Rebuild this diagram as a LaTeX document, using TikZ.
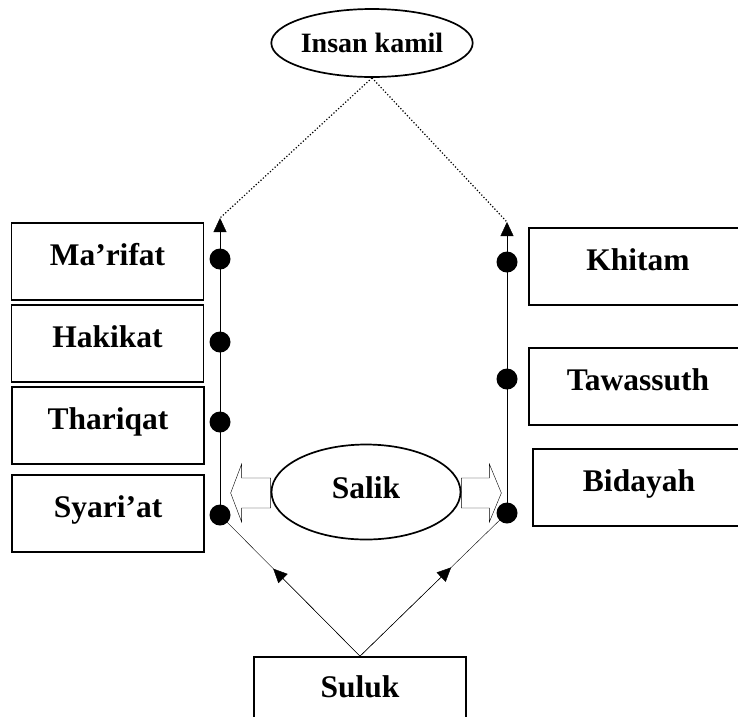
\documentclass[tikz,border=0pt]{standalone}
\usepackage{fontspec}
\setmainfont{Liberation Serif}
\usetikzlibrary{arrows.meta,shapes.geometric,calc}
\pgfdeclarelayer{background}
\pgfsetlayers{background,main}

\begin{document}
\begin{tikzpicture}[x=1pt,y=-1pt,line width=1.7pt,
                    stage/.style={draw,rectangle,inner sep=0pt,minimum width=192pt,
                      minimum height=77pt,text height=22pt,text depth=14pt,
                      font=\fontsize{31.5}{36}\selectfont\bfseries},
                    point/.style={circle,inner sep=0pt,minimum size=21pt,fill=black},
                    tip/.style={-{Triangle[length=14pt,width=13pt]}},
                    hollow/.style={draw,fill=white}]

                  \useasboundingbox (0,0) rectangle (738,716);

                  % goal
                  \node (kamil) [ellipse,draw,inner sep=0pt,minimum width=153pt,
                    minimum height=68pt,text height=18.5pt,text depth=0pt,
                    font=\fontsize{28}{32}\selectfont\bfseries] at (372,43) {Insan kamil};

                  % left column
                  \node (marifat)  [stage] at (107.5,261.5) {Ma’rifat};
                  \node (hakikat)  [stage] at (107.5,343.5) {Hakikat};
                  \node (thariqat) [stage] at (108,425.5) {Thariqat};
                  \node (syariat)  [stage] at (108,513.5) {Syari’at};

                  % right column
                  \node (khitam)    [stage,minimum width=218pt] at (638,266.5) {Khitam};
                  \node (tawassuth) [stage,minimum width=218pt] at (638,386.5) {Tawassuth};
                  \node (bidayah)   [stage,minimum width=212pt] at (639,487.5) {Bidayah};

                  \node (suluk) [stage,minimum width=212pt,minimum height=72pt] at (360,693) {Suluk};

                  \node (salik) [ellipse,draw,fill=white,inner sep=0pt,minimum width=189pt,
                    minimum height=95pt,text height=22pt,text depth=9pt,
                    font=\fontsize{31.5}{36}\selectfont\bfseries] at (366,492) {Salik};

                  \begin{pgfonlayer}{background}
                    \draw [hollow] (salik.west) ++(0,-14) -- ++(-29,0) -- ++(0,-14)
                      -- ++(-11,29) -- ++(11,29) -- ++(0,-14) -- ++(29,0) -- cycle;
                    \draw [hollow] (salik.east) ++(0,-14) -- ++(28,0) -- ++(0,-14)
                      -- ++(12,29) -- ++(-12,29) -- ++(0,-14) -- ++(-28,0) -- cycle;
                  \end{pgfonlayer}

                  % points on the two paths
                  \node (pmarifat)   [point] at (220,259) {};
                  \node (phakikat)   [point] at (220,342) {};
                  \node (pthariqat)  [point] at (220,422) {};
                  \node (psyariat)   [point] at (220,515) {};
                  \node (pkhitam)    [point] at (507,262) {};
                  \node (ptawassuth) [point] at (507,379) {};
                  \node (pbidayah)   [point] at (507,513) {};
                  \coordinate (ltop) at (220,218);
                  \coordinate (rtop) at (507,222);

                  \draw [tip] (psyariat.center) -- (ltop);
                  \draw [tip] (pbidayah.center) -- (rtop);
                  \draw [dotted,line width=1.2pt] (kamil.south) -- (ltop);
                  \draw [dotted,line width=1.2pt] (kamil.south) -- (rtop);

                  \draw (suluk.north) -- (psyariat.center);
                  \draw (suluk.north) -- (pbidayah.center);
                  \draw [tip] (suluk.north) -- ($(suluk.north)!0.62!(psyariat.center)$);
                  \draw [tip] (suluk.north) -- ($(suluk.north)!0.62!(pbidayah.center)$);
                \end{tikzpicture}
\end{document}
